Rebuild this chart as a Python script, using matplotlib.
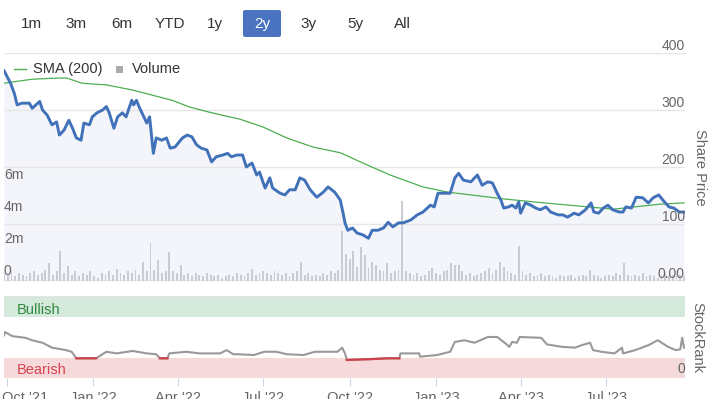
import numpy as np
import matplotlib
matplotlib.use('Agg')
import matplotlib.pyplot as plt
import matplotlib.dates as mdates
import matplotlib.transforms as mtransforms
from matplotlib.patches import FancyBboxPatch, Rectangle
from matplotlib.lines import Line2D

plt.rcParams['font.family'] = ['Liberation Sans', 'DejaVu Sans']

start = np.datetime64('2021-09-28')

# share price (days after start, price)
price_days = [0, 7, 11, 14, 19, 27, 30, 34, 38, 41, 46, 51, 56, 59, 64, 69, 73, 77, 82, 85,
              91, 94, 99, 105, 109, 112, 117, 121, 126, 130, 136, 138, 141, 144, 148, 152, 155, 159, 162, 168,
              173, 177, 182, 190, 195, 200, 205, 210, 216, 221, 226, 233, 238, 242, 248, 254, 258, 264, 269, 272,
              278, 283, 286, 294, 299, 304, 310, 315, 320, 326, 333, 340, 345, 352, 358, 361, 363, 366, 371, 376,
              382, 388, 392, 398, 404, 409, 414, 420, 425, 433, 440, 446, 454, 458, 462, 468, 475, 480, 484, 489,
              497, 504, 509, 515, 520, 525, 529, 532, 537, 541, 545, 548, 550, 555, 561, 566, 571, 577, 582, 590,
              595, 600, 607, 612, 619, 625, 628, 633, 638, 643, 648, 655, 659, 662, 668, 673, 680, 686, 691, 697,
              703, 708, 713, 719, 724]
price = [369, 347, 329, 309, 312, 312, 303, 309, 315, 300, 291, 274, 279, 256, 265, 282, 268, 251, 247, 277,
         274, 288, 295, 300, 306, 295, 268, 288, 295, 288, 317, 309, 317, 305, 291, 277, 288, 224, 251, 247,
         251, 233, 235, 251, 256, 253, 239, 233, 230, 209, 218, 221, 224, 218, 221, 221, 200, 207, 186, 191,
         163, 181, 163, 154, 151, 160, 160, 181, 177, 160, 147, 156, 165, 156, 142, 119, 102, 89, 93, 84,
         81, 75, 89, 89, 93, 103, 95, 102, 102, 107, 116, 121, 133, 130, 154, 154, 154, 181, 189, 177,
         174, 186, 168, 174, 172, 154, 142, 128, 130, 133, 128, 139, 119, 137, 133, 128, 125, 130, 121, 116,
         116, 112, 119, 116, 125, 137, 121, 119, 128, 133, 125, 121, 121, 130, 128, 147, 146, 137, 146, 151,
         139, 130, 128, 121, 121]

sma_days = [0, 30, 56, 67, 83, 109, 137, 158, 179, 198, 219, 240, 251, 276, 301, 329, 358, 382, 411,
            446, 472, 497, 532, 575, 622, 649, 671, 700, 724]
sma = [347, 354, 356, 356, 347, 344, 335, 326, 317, 305, 296, 288, 284, 270, 251, 235, 225, 207, 186,
       165, 156, 151, 144, 137, 130, 126, 130, 135, 137]

# volume in millions, one bar every 4 days
volume_m = [0.5, 0.4, 0.6, 0.3, 0.5, 0.4, 0.3, 0.5, 0.6, 0.4,
            0.5, 0.7, 1.1, 0.4, 0.6, 1.9, 0.5, 0.95, 0.4, 0.6,
            0.3, 0.5, 0.4, 0.6, 0.3, 0.2, 0.5, 0.4, 0.6, 0.4,
            0.75, 0.5, 0.4, 0.6, 0.5, 0.7, 0.4, 1.2, 0.6, 2.4,
            0.7, 1.3, 0.5, 0.6, 1.8, 0.6, 0.5, 1.0, 0.4, 0.5,
            0.3, 0.5, 0.4, 0.3, 0.5, 0.4, 0.3, 0.4, 0.2, 0.3,
            0.4, 0.3, 0.5, 0.4, 0.3, 0.5, 0.75, 0.4, 0.5, 0.6,
            0.5, 0.4, 0.6, 0.5, 0.4, 0.5, 0.3, 0.5, 0.6, 1.2,
            0.4, 0.5, 0.3, 0.4, 0.3, 0.5, 0.4, 0.6, 0.5, 0.7,
            3.1, 1.7, 1.4, 1.9, 0.9, 2.1, 1.6, 0.8, 1.2, 1.0,
            0.7, 0.6, 1.1, 0.5, 0.6, 0.7, 5.0, 0.6, 0.5, 0.4,
            0.5, 0.3, 0.4, 0.6, 0.8, 0.5, 0.4, 0.6, 0.7, 1.1,
            1.0, 1.0, 0.6, 0.4, 0.5, 0.3, 0.4, 0.5, 0.6, 0.8,
            0.5, 0.7, 1.2, 0.9, 0.6, 0.5, 0.4, 2.2, 0.6, 0.4,
            0.5, 0.3, 0.4, 0.5, 0.3, 0.4, 0.3, 0.2, 0.4, 0.3,
            0.3, 0.4, 0.2, 0.3, 0.4, 0.3, 0.7, 0.4, 0.3, 0.2,
            0.3, 0.4, 0.3, 0.5, 0.4, 1.1, 0.4, 0.3, 0.4, 0.3,
            0.5, 0.3, 0.4, 0.3, 0.2, 0.4, 0.5, 0.3, 0.4, 0.3, 0.4, 0.3]
volume_step = 4

# StockRank
rank_days = [0, 1, 9, 23, 30, 41, 51, 66, 72, 77, 88, 98, 109, 120, 137, 152, 162, 166, 174, 176,
             194, 208, 230, 237, 244, 248, 266, 277, 290, 301, 319, 331, 355, 360, 363, 365, 390, 408, 421, 422,
             442, 443, 461, 475, 480, 490, 501, 515, 525, 533, 538, 541, 546, 549, 572, 578, 594, 608, 615, 624,
             627, 636, 650, 658, 659, 672, 686, 696, 707, 715, 720, 722, 724]
rank = [52, 56, 51, 49, 46, 43, 37, 34, 32, 24, 24, 24, 32, 30, 33, 30, 29, 24, 24, 30,
        32, 30, 30, 34, 29, 29, 28, 32, 32, 29, 28, 32, 32, 37, 30, 22, 23, 24, 24, 30,
        30, 26, 28, 32, 44, 46, 43, 50, 50, 43, 38, 44, 43, 50, 49, 41, 38, 37, 40, 43,
        34, 32, 30, 37, 30, 34, 40, 46, 38, 34, 35, 49, 37]
bearish_level = 25
bullish_level = 75

ranges = ['1m', '3m', '6m', 'YTD', '1y', '2y', '3y', '5y', 'All']
selected = '2y'
price_ticks = [0, 100, 200, 300, 400]
price_labels = ['0.00', '100', '200', '300', '400']
vol_ticks = [0, 2, 4, 6]
vol_labels = ['0', '2m', '4m', '6m']


def to_dates(days):
    return start + np.array(days).astype('timedelta64[D]')


W, H = 711, 399
fig = plt.figure(figsize=(W / 100, H / 100), dpi=100)


def fx(px):
    return px / W


def fy(py):
    return 1 - py / H


left, right = 4, 685
main_rect = [fx(left), fy(281), fx(right - left), (281 - 53) / H]
rank_rect = [fx(left), fy(378), fx(right - left), (378 - 296) / H]

xmin = start
xmax = start + np.timedelta64(725, 'D')

# base axes: fill and gridlines
ax_p = fig.add_axes(main_rect)
ax_v = fig.add_axes(main_rect, sharex=ax_p)
ax_l = fig.add_axes(main_rect, sharex=ax_p)
for a in (ax_p, ax_v, ax_l):
    for s in a.spines.values():
        s.set_visible(False)
    a.tick_params(left=False, right=False, bottom=False, labelleft=False, labelbottom=False)
    a.set_yticks([])
ax_v.patch.set_visible(False)
ax_l.patch.set_visible(False)

pd_dates = to_dates(price_days)
ax_p.fill_between(pd_dates, price, 0, color='#f3f5fa', lw=0)
for t in price_ticks:
    ax_p.axhline(t, color='#e6e6e6', lw=1.0 if t else 1.2, zorder=1)
ax_p.set_ylim(0, 400)
ax_p.set_xlim(xmin, xmax)

trans_p = mtransforms.blended_transform_factory(ax_p.transAxes, ax_p.transData)
for t, lab in zip(price_ticks, price_labels):
    ax_l.text(1.0, t, lab, transform=trans_p, ha='right', va='bottom', fontsize=10,
              color='#666666')

vol_dates = to_dates(np.arange(len(volume_m)) * volume_step)
ax_v.bar(vol_dates, volume_m, width=2.0, color='#cbccd3', lw=0)
ax_v.set_ylim(0, 14.25)
trans_v = mtransforms.blended_transform_factory(ax_v.transAxes, ax_v.transData)
for t, lab in zip(vol_ticks, vol_labels):
    ax_l.text(0.0, t + 0.2, lab, transform=trans_v, ha='left', va='bottom', fontsize=10,
              color='#666666')

ax_l.plot(to_dates(sma_days), sma, color='#4caf50', lw=0.9)
ax_l.plot(pd_dates, price, color='#4171b9', lw=2.1, solid_joinstyle='round')
ax_l.set_ylim(0, 400)

fig.text(fx(700), fy(167), 'Share Price', rotation=270, ha='center', va='center',
         fontsize=10.5, color='#666666')

# legend
fig.add_artist(Line2D([fx(14), fx(26)], [fy(69), fy(69)], color='#4caf50', lw=1.0))
fig.text(fx(33), fy(69), 'SMA (200)', ha='left', va='center', fontsize=10.5, color='#333333')
fig.add_artist(Rectangle((fx(116), fy(73)), fx(7), 7 / H, color='#aaaaaa', lw=0))
fig.text(fx(132), fy(69), 'Volume', ha='left', va='center', fontsize=10.5, color='#333333')

# range buttons
button_x = [31, 76, 122, 170, 215, 262, 309, 355, 402]
for lab, bx in zip(ranges, button_x):
    col = '#333333'
    if lab == selected:
        fig.add_artist(FancyBboxPatch((fx(bx - 19), fy(37)), fx(38), 27 / H,
                                      boxstyle='round,pad=0,rounding_size=0.004',
                                      color='#4a74bf', lw=0))
        col = 'white'
    fig.text(fx(bx), fy(24), lab, ha='center', va='center', fontsize=11, color=col)

# StockRank panel
ax_r = fig.add_axes(rank_rect, sharex=ax_p)
for s in ax_r.spines.values():
    s.set_visible(False)
ax_r.axhspan(bullish_level, 100, color='#d4e8dc', lw=0)
ax_r.axhspan(0, bearish_level, color='#f5d9db', lw=0)
ax_r.axhline(100, color='#e6e6e6', lw=1.2)
rd = to_dates(rank_days)
rank_arr = np.array(rank, dtype=float)
ax_r.plot(rd, rank_arr, color='#999999', lw=1.5)
low = np.where(rank_arr < bearish_level, rank_arr, np.nan)
ax_r.plot(rd, low, color='#d0404a', lw=1.6)
ax_r.set_ylim(0, 100)
ax_r.set_yticks([])
trans_r = mtransforms.blended_transform_factory(ax_r.transAxes, ax_r.transData)
ax_r.text(0.019, 83.5, 'Bullish', transform=trans_r, ha='left', va='center', fontsize=10.5,
          color='#2e8b3e')
ax_r.text(0.019, 10, 'Bearish', transform=trans_r, ha='left', va='center', fontsize=10.5,
          color='#d9434f')
ax_r.text(1.0, 3, '0', transform=trans_r, ha='right', va='bottom', fontsize=10, color='#666666')
fig.text(fx(697), fy(337), 'StockRank', rotation=270, ha='center', va='center',
         fontsize=10.5, color='#666666')

ax_r.xaxis.set_major_locator(mdates.MonthLocator(bymonth=[1, 4, 7, 10]))
ax_r.xaxis.set_major_formatter(mdates.DateFormatter("%b '%y"))
ax_r.tick_params(axis='x', length=6, color='#ccd6eb', labelsize=10.5, labelcolor='#666666', pad=3.5)
ax_r.set_xlim(xmin, xmax)

# first label kept inside the chart, as in the reference
fig.canvas.draw()
first = ax_r.get_xticklabels()[0]
first.set_horizontalalignment('left')
first.set_transform(first.get_transform() + mtransforms.ScaledTranslation(-0.05, 0, fig.dpi_scale_trans))

fig.savefig('out.png', dpi=100)
